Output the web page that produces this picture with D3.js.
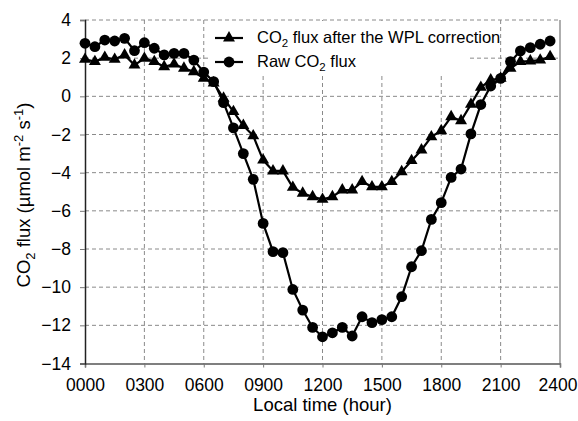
<!DOCTYPE html>
<html>
<head>
<meta charset="utf-8">
<script src="https://cdn.jsdelivr.net/npm/d3@7/dist/d3.min.js"></script>
<style>
  html, body { margin: 0; padding: 0; background: #fff; }
  svg { display: block; font-family: "Liberation Sans", Arial, Helvetica, sans-serif; }
</style>
</head>
<body>
<svg id="chart" width="578" height="421"></svg>
<script>
// Half-hourly local time (hours), 00:00 .. 23:30
const hours = d3.range(0, 24, 0.5);

// Raw CO2 flux (µmol m-2 s-1)
const rawFlux = [2.78, 2.60, 2.95, 2.90, 3.04, 2.39, 2.81, 2.52, 2.17, 2.25, 2.25, 1.90, 1.27, 0.77,
  -0.33, -1.65, -3.00, -4.35, -6.66, -8.14, -8.19, -10.12, -11.20, -12.11, -12.60, -12.39, -12.11, -12.56,
  -11.55, -11.86, -11.70, -11.55, -10.50, -8.93, -8.09, -6.45, -5.57, -4.25, -3.81, -1.97,
  -0.43, 0.54, 0.94, 1.82, 2.38, 2.55, 2.73, 2.90];

// CO2 flux after the WPL correction (µmol m-2 s-1)
const wplFlux = [1.94, 1.82, 2.04, 1.94, 2.17, 1.64, 1.99, 1.82, 1.55, 1.69, 1.47, 1.29, 0.95, 0.70,
  -0.10, -0.80, -1.53, -2.07, -3.34, -3.91, -3.91, -4.77, -5.08, -5.26, -5.40, -5.26, -4.91, -4.91,
  -4.47, -4.74, -4.74, -4.47, -3.95, -3.37, -2.81, -2.12, -1.80, -1.07, -1.28, -0.42,
  0.47, 0.86, 0.94, 1.47, 1.82, 1.85, 1.90, 2.08];

const xTickValues = [0, 3, 6, 9, 12, 15, 18, 21, 24];
const xTickLabels = ["0000", "0300", "0600", "0900", "1200", "1500", "1800", "2100", "2400"];
const yTickValues = [-14, -12, -10, -8, -6, -4, -2, 0, 2, 4];

const svg = d3.select("#chart");
const plotL = 85, plotR = 560, plotT = 20, plotB = 363.5;

const x = d3.scaleLinear().domain([0, 24]).range([plotL, plotR]);
const y = d3.scaleLinear().domain([-14, 4]).range([plotB, plotT]);

// Dashed grid
const grid = svg.append("g").attr("stroke", "#8a8a8a").attr("stroke-width", 1)
  .attr("stroke-dasharray", "4,3").attr("fill", "none");
yTickValues.filter(v => v !== -14).forEach(v => {
  grid.append("line").attr("x1", plotL).attr("x2", plotR).attr("y1", y(v)).attr("y2", y(v));
});
xTickValues.filter(v => v !== 0 && v !== 24).forEach(v => {
  grid.append("line").attr("x1", x(v)).attr("x2", x(v)).attr("y1", plotT).attr("y2", plotB);
});
// right frame
svg.append("line").attr("x1", plotR).attr("x2", plotR).attr("y1", plotT).attr("y2", plotB)
  .attr("stroke", "#777").attr("stroke-width", 1.2);

// Legend backdrop hides grid behind the legend entries
svg.append("rect").attr("x", 211).attr("y", 21).attr("width", 259).attr("height", 52).attr("fill", "#fff");

// Axes
const xAxis = d3.axisBottom(x).tickValues(xTickValues)
  .tickFormat((d, i) => xTickLabels[i]).tickSize(4).tickPadding(11);
const gx = svg.append("g").attr("transform", `translate(0,${plotB})`).call(xAxis);
gx.select(".domain").attr("stroke", "#555").attr("stroke-width", 1.5);
gx.selectAll(".tick line").attr("stroke", "#777");
gx.selectAll("text").attr("font-size", 17.5).attr("fill", "#000")
  .attr("font-family", "'Liberation Sans', Arial, sans-serif");
// keep the last label inside the page edge
gx.selectAll(".tick text").filter(d => d === 24).attr("text-anchor", "end").attr("x", 17);

const yAxis = d3.axisLeft(y).tickValues(yTickValues).tickSize(5).tickPadding(9);
const gy = svg.append("g").attr("transform", `translate(${plotL},0)`).call(yAxis);
gy.select(".domain").attr("stroke", "#222").attr("stroke-width", 1.5);
gy.selectAll(".tick line").attr("stroke", "#777");
gy.selectAll("text").attr("font-size", 17.5).attr("fill", "#000")
  .attr("font-family", "'Liberation Sans', Arial, sans-serif");

// Axis titles
svg.append("text").attr("x", (plotL + plotR) / 2).attr("y", 411).attr("text-anchor", "middle")
  .attr("font-size", 18.5).text("Local time (hour)");

const yt = svg.append("text").attr("transform", "translate(30,195) rotate(-90)")
  .attr("text-anchor", "middle").attr("font-size", 18.5);
yt.append("tspan").text("CO");
yt.append("tspan").attr("font-size", 13).attr("dy", 5).text("2");
yt.append("tspan").attr("dy", -5).text(" flux (µmol m");
yt.append("tspan").attr("font-size", 13).attr("dy", -7).text("-2");
yt.append("tspan").attr("dy", 7).text(" s");
yt.append("tspan").attr("font-size", 13).attr("dy", -7).text("-1");
yt.append("tspan").attr("dy", 7).text(")");

// Series
const line = d3.line().x(d => x(d[0])).y(d => y(d[1]));
const rawPts = hours.map((h, i) => [h, rawFlux[i]]);
const wplPts = hours.map((h, i) => [h, wplFlux[i]]);

const tri = d3.symbol().type(d3.symbolTriangle).size(62);

svg.append("path").datum(rawPts).attr("d", line).attr("fill", "none")
  .attr("stroke", "#000").attr("stroke-width", 2.2);
svg.append("path").datum(wplPts).attr("d", line).attr("fill", "none")
  .attr("stroke", "#000").attr("stroke-width", 2.2);

svg.append("g").selectAll("circle").data(rawPts).join("circle")
  .attr("cx", d => x(d[0])).attr("cy", d => y(d[1])).attr("r", 5.4).attr("fill", "#000");
svg.append("g").selectAll("path").data(wplPts).join("path")
  .attr("d", tri).attr("transform", d => `translate(${x(d[0])},${y(d[1])})`).attr("fill", "#000");

// Legend
const lg = svg.append("g");
lg.append("line").attr("x1", 215).attr("x2", 243).attr("y1", 38).attr("y2", 38)
  .attr("stroke", "#000").attr("stroke-width", 2.2);
lg.append("path").attr("d", tri).attr("transform", "translate(229,38)").attr("fill", "#000");
lg.append("line").attr("x1", 215).attr("x2", 243).attr("y1", 62).attr("y2", 62)
  .attr("stroke", "#000").attr("stroke-width", 2.2);
lg.append("circle").attr("cx", 229).attr("cy", 62).attr("r", 5.4).attr("fill", "#000");

const l1 = lg.append("text").attr("x", 257).attr("y", 43).attr("font-size", 16.5);
l1.append("tspan").text("CO");
l1.append("tspan").attr("font-size", 11.5).attr("dy", 4).text("2");
l1.append("tspan").attr("dy", -4).text(" flux after the WPL correction");

const l2 = lg.append("text").attr("x", 257).attr("y", 67).attr("font-size", 16.5);
l2.append("tspan").text("Raw CO");
l2.append("tspan").attr("font-size", 11.5).attr("dy", 4).text("2");
l2.append("tspan").attr("dy", -4).text(" flux");
</script>
</body>
</html>
